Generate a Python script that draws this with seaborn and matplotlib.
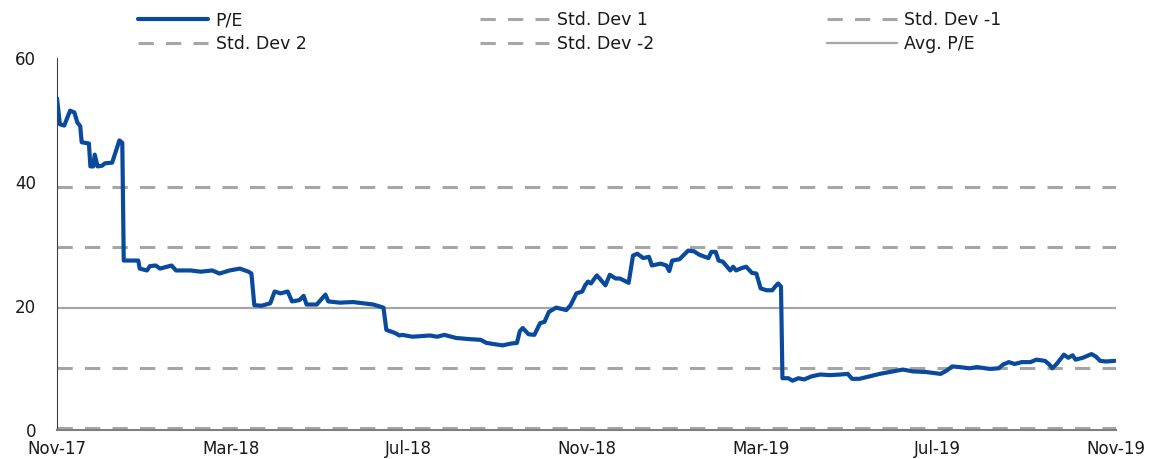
import matplotlib

matplotlib.use("Agg")
import matplotlib.dates as mdates
import matplotlib.pyplot as plt
import pandas as pd
import seaborn as sns
from matplotlib.lines import Line2D

# P/E readings
DATES = [
    "2017-11-01", "2017-11-03", "2017-11-06", "2017-11-10", "2017-11-13", "2017-11-15",
    "2017-11-17", "2017-11-18", "2017-11-23", "2017-11-24", "2017-11-26", "2017-11-27",
    "2017-11-29",
    "2017-12-02", "2017-12-04", "2017-12-09", "2017-12-14", "2017-12-16", "2017-12-17",
    "2017-12-27", "2017-12-28",
    "2018-01-02", "2018-01-04", "2018-01-08", "2018-01-11", "2018-01-19", "2018-01-22",
    "2018-02-01", "2018-02-08", "2018-02-16", "2018-02-21", "2018-02-28",
    "2018-03-07", "2018-03-13", "2018-03-15", "2018-03-17", "2018-03-22", "2018-03-28",
    "2018-03-31",
    "2018-04-04", "2018-04-09", "2018-04-12", "2018-04-17", "2018-04-20", "2018-04-22",
    "2018-04-29",
    "2018-05-05", "2018-05-07", "2018-05-15", "2018-05-24",
    "2018-06-07", "2018-06-14", "2018-06-16", "2018-06-22", "2018-06-25", "2018-06-27",
    "2018-07-04", "2018-07-16", "2018-07-21", "2018-07-26",
    "2018-08-03", "2018-08-13", "2018-08-20", "2018-08-24",
    "2018-09-04", "2018-09-10", "2018-09-14", "2018-09-16", "2018-09-18", "2018-09-22",
    "2018-09-26", "2018-09-30",
    "2018-10-03", "2018-10-06", "2018-10-11", "2018-10-18", "2018-10-21", "2018-10-25",
    "2018-10-29", "2018-10-31",
    "2018-11-02", "2018-11-04", "2018-11-08", "2018-11-10", "2018-11-14", "2018-11-17",
    "2018-11-21", "2018-11-24", "2018-11-30",
    "2018-12-03", "2018-12-06", "2018-12-10", "2018-12-14", "2018-12-16", "2018-12-22",
    "2018-12-26", "2018-12-28", "2018-12-30",
    "2019-01-04", "2019-01-07", "2019-01-10", "2019-01-14", "2019-01-18", "2019-01-24",
    "2019-01-26", "2019-01-29", "2019-01-31",
    "2019-02-03", "2019-02-08", "2019-02-10", "2019-02-12", "2019-02-16", "2019-02-19",
    "2019-02-23", "2019-02-26",
    "2019-03-01", "2019-03-05", "2019-03-09", "2019-03-11", "2019-03-13", "2019-03-15",
    "2019-03-16", "2019-03-20", "2019-03-23", "2019-03-27", "2019-03-31",
    "2019-04-05", "2019-04-11", "2019-04-18", "2019-04-25", "2019-04-30",
    "2019-05-03", "2019-05-08", "2019-05-15", "2019-05-22", "2019-05-29",
    "2019-06-07", "2019-06-14", "2019-06-23",
    "2019-07-03", "2019-07-07", "2019-07-11", "2019-07-16", "2019-07-23", "2019-07-28",
    "2019-08-06", "2019-08-12", "2019-08-15", "2019-08-19", "2019-08-23", "2019-08-28",
    "2019-09-03", "2019-09-07", "2019-09-13", "2019-09-16", "2019-09-18", "2019-09-21",
    "2019-09-26", "2019-09-29",
    "2019-10-02", "2019-10-04", "2019-10-09", "2019-10-15", "2019-10-18", "2019-10-21",
    "2019-10-25", "2019-10-31",
]
PE = [
    53.5, 49.3, 49.1, 51.5, 51.2, 49.6,
    49.0, 46.4, 46.2, 42.5, 42.5, 44.4,
    42.5,
    42.6, 43.0, 43.1, 46.7, 46.3, 27.3,
    27.3, 26.0,
    25.7, 26.4, 26.5, 26.0, 26.5, 25.7,
    25.7, 25.5, 25.7, 25.2, 25.7,
    26.0, 25.5, 25.2, 20.1, 20.0, 20.4,
    22.3,
    22.0, 22.3, 20.7, 20.9, 21.6, 20.2,
    20.2,
    21.8, 20.7, 20.5, 20.6,
    20.2, 19.7, 16.1, 15.6, 15.2, 15.3,
    15.0, 15.2, 15.0, 15.3,
    14.8, 14.6, 14.5, 14.0,
    13.6, 13.9, 14.0, 15.9, 16.4, 15.4,
    15.3, 17.2,
    17.4, 19.0, 19.7, 19.3, 20.1, 22.0,
    22.3, 23.3,
    23.9, 23.6, 24.9, 24.4, 23.3, 25.0,
    24.4, 24.4, 23.7,
    28.1, 28.4, 27.7, 27.9, 26.5, 26.8,
    26.5, 25.6, 27.3,
    27.5, 28.2, 28.9, 28.8, 28.2, 27.7,
    28.7, 28.7, 27.3,
    27.1, 25.7, 26.3, 25.7, 26.1, 26.3,
    25.3, 25.2,
    22.8, 22.5, 22.5, 23.1, 23.6, 23.1,
    8.3, 8.3, 7.9, 8.3, 8.1,
    8.6, 8.9, 8.8, 8.9, 9.0,
    8.2, 8.2, 8.6, 9.0, 9.3,
    9.7, 9.4, 9.3,
    9.0, 9.5, 10.2, 10.1, 9.9, 10.1,
    9.8, 9.9, 10.5, 10.9, 10.6, 10.9,
    10.9, 11.3, 11.1, 10.5, 9.9, 10.6,
    12.1, 11.6,
    12.0, 11.3, 11.6, 12.2, 11.8, 11.1,
    11.0, 11.1,
]
assert len(DATES) == len(PE)

AVG_PE = 19.7
STD_PE = 9.75

BLUE = "#0A4A9C"
GREY = "#A6A6A6"
DASH = (0, (5, 4))

sns.set_style("white")
plt.rcParams["font.family"] = ["DejaVu Sans"]
plt.rcParams["text.color"] = "#1a1a1a"
plt.rcParams["xtick.color"] = "#1a1a1a"
plt.rcParams["ytick.color"] = "#1a1a1a"

df = pd.DataFrame({"date": pd.to_datetime(DATES), "pe": PE})

fig = plt.figure(figsize=(11.54, 4.59), dpi=100)
ax = fig.add_axes([0.0494, 0.064, 0.9178, 0.8096])

bands = [
    ("Std. Dev 1", AVG_PE + STD_PE),
    ("Std. Dev -1", AVG_PE - STD_PE),
    ("Std. Dev 2", AVG_PE + 2 * STD_PE),
    ("Std. Dev -2", AVG_PE - 2 * STD_PE),
]
for _, level in bands:
    ax.axhline(level, color=GREY, lw=2.2, ls=DASH, zorder=1)
ax.axhline(AVG_PE, color=GREY, lw=1.6, zorder=1)

sns.lineplot(data=df, x="date", y="pe", color=BLUE, lw=3.0, ax=ax, zorder=3)

ax.set_xlim(pd.Timestamp("2017-11-01"), pd.Timestamp("2019-11-01"))
ax.set_ylim(0, 60)
ax.set_yticks([0, 20, 40, 60])
ax.xaxis.set_major_locator(mdates.MonthLocator(bymonth=[3, 7, 11]))
ax.xaxis.set_major_formatter(mdates.DateFormatter("%b-%y"))
ax.set_xlabel("")
ax.set_ylabel("")
ax.tick_params(axis="both", direction="in", length=5, width=1, labelsize=12)
ax.tick_params(axis="y", pad=15)
ax.tick_params(axis="x", pad=7.5)
for lbl in ax.get_yticklabels():
    lbl.set_verticalalignment("center_baseline")

sns.despine(ax=ax)
ax.spines["left"].set_color("#404040")
ax.spines["bottom"].set_color("#7f7f7f")
ax.spines["bottom"].set_linewidth(1.5)

handles = [
    Line2D([], [], color=BLUE, lw=3.0),
    Line2D([], [], color=GREY, lw=2.2, ls=DASH),
    Line2D([], [], color=GREY, lw=2.2, ls=DASH),
    Line2D([], [], color=GREY, lw=2.2, ls=DASH),
    Line2D([], [], color=GREY, lw=2.2, ls=DASH),
    Line2D([], [], color=GREY, lw=1.6),
]
labels = ["P/E", "Std. Dev 2", "Std. Dev 1", "Std. Dev -2", "Std. Dev -1", "Avg. P/E"]
fig.legend(
    handles,
    labels,
    loc="upper left",
    bbox_to_anchor=(0.120, 0.975, 0.748, 0.0),
    mode="expand",
    ncol=3,
    frameon=False,
    fontsize=12.5,
    handlelength=4.0,
    handletextpad=0.45,
    labelspacing=0.3,
    borderpad=0,
    borderaxespad=0,
)

fig.savefig("out.png", dpi=100)
